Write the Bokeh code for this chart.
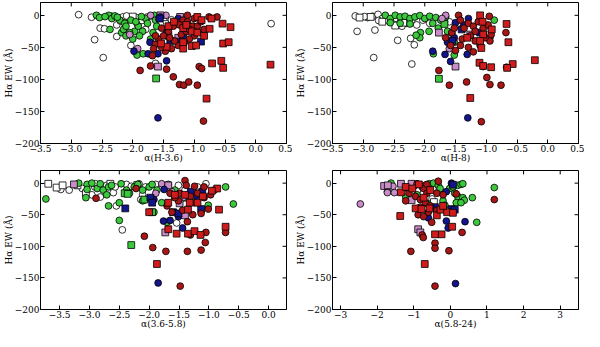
from bokeh.plotting import figure
from bokeh.layouts import gridplot
from bokeh.models import ColumnDataSource, FixedTicker, CustomJSTickFormatter, Range1d
from bokeh.embed import file_html
from bokeh.resources import INLINE

# ---------------- data (x, y) pairs per class ----------------
Y_TICKS = [0, -50, -100, -150, -200]
Y_LIM = (-200, 20)
Y_LABEL = "H\u03b1 EW (\u00c5)"

# Panel 1: alpha(H-3.6)
P1_XLIM = (-3.5, 0.5)
P1_XTICKS = [-3.5, -3.0, -2.5, -2.0, -1.5, -1.0, -0.5, 0.0, 0.5]
P1_OPEN_C = [(-2.88, 1), (-2.67, -3), (-2.53, -20), (-2.46, -21), (-2.62, -38), (-2.48, -66), (-2.26, -33),
             (-2.03, -47), (-1.63, -75), (0.25, -13), (-2.34, -1.5), (-2.16, -2.5), (-2.05, -5), (-1.95, -3.5),
             (-1.76, -2.5), (-1.6, -5), (-1.47, -12), (-1.37, -7), (-1.16, -10), (-0.96, -8.5), (-2.26, -15),
             (-1.92, -15), (-1.79, -22), (-2.2, -9), (-2.1, -1), (-1.85, -8), (-1.7, -1), (-1.55, -14)]
P1_OPEN_S = [(-2.0, -2), (-1.5, -3)]
P1_GREEN_C = [(-2.59, 0), (-2.54, -3.5), (-2.39, 0), (-2.34, -5), (-2.29, -1), (-2.21, -7.5), (-2.13, -12.5),
              (-2.37, -22), (-2.18, -27), (-2.15, -22), (-2.11, -17), (-2.03, -7.5), (-2.0, -37), (-1.97, -25),
              (-1.91, -17), (-1.93, -62), (-1.84, -25), (-1.83, -60), (-1.79, -5), (-1.76, -12.5), (-1.67, -27),
              (-1.65, 0), (-1.63, -7.5), (-1.61, -17), (-1.53, -47), (-1.71, -37), (-1.89, -32), (-2.11, -32),
              (-2.05, -27), (-2.45, -2), (-2.25, -3), (-1.95, -10), (-1.86, -2)]
P1_GREEN_S = [(-1.62, -98.5)]
P1_PINK_C = [(-1.92, -52), (-1.71, 0), (-1.46, 0), (-1.58, -5), (-2.05, -30)]
P1_PINK_S = [(-1.59, -80), (-1.23, -2.5), (-1.55, 0), (-1.26, -35), (-1.42, -32)]
P1_BLUE_C = [(-1.98, -56), (-1.75, -60), (-1.72, -42), (-1.59, -60), (-1.45, -71), (-1.59, -160), (-1.55, -2.5),
             (-1.26, -5), (-1.45, -27)]
P1_BLUE_S = [(-1.56, -5), (-1.39, -40), (-1.24, -41), (-1.18, -33), (-0.89, -41)]
P1_RED_C = [(-1.88, -86), (-1.71, -79), (-1.68, -63), (-1.45, -84), (-1.34, -96), (-1.24, -108), (-1.17, -109),
            (-1.09, -104), (-0.95, -109), (-0.92, -80), (-0.88, -83), (-0.85, -165), (-1.63, -45), (-1.58, -37),
            (-1.5, -32), (-1.42, -25), (-1.34, -17), (-1.26, -12.5), (-1.18, -7.5), (-1.11, -10), (-1.03, -17),
            (-0.95, -25), (-1.0, -32), (-1.08, -37), (-1.16, -42), (-1.26, -47), (-1.37, -52), (-1.47, -56),
            (-1.53, -50), (-1.32, -40), (-1.4, -35), (-1.21, -30), (-1.13, -25), (-1.08, -22), (-0.95, -17),
            (-0.89, -10), (-0.84, -22), (-1.0, -5), (-0.76, -2.5), (-0.63, -2.5), (-1.11, 0), (-1.24, -15),
            (-1.53, -20), (-1.63, -32), (-1.66, -52)]
P1_RED_S = [(-0.95, -2.5), (-0.88, -7.5), (-0.75, -21), (-0.72, -5), (-0.54, -13), (-0.41, -18.5), (-0.53, -44),
            (-0.44, -42), (-0.56, -71), (-0.53, -82), (-0.71, -75), (-0.80, -130), (0.24, -77), (-1.18, -52),
            (-1.04, -48), (-0.97, -47), (-1.18, -42), (-1.45, -49), (-1.54, -44), (-1.42, -17), (-1.18, -20),
            (-1.04, -25), (-0.95, -27), (-1.13, -15), (-0.84, -32), (-1.33, -10)]

# Panel 2: alpha(H-8)
P2_XLIM = (-3.5, 0.5)
P2_XTICKS = [-3.5, -3.0, -2.5, -2.0, -1.5, -1.0, -0.5, 0.0, 0.5]
P2_OPEN_C = [(-3.13, -1), (-3.1, -25), (-2.81, -23), (-2.83, -66), (-2.44, -39), (-2.23, -36), (-2.17, -46),
             (-2.21, -76), (-2.93, -3.5), (-2.85, -1.5), (-2.76, 1.5), (-2.69, -5), (-2.61, -7.5), (-2.51, -10),
             (-2.46, -5), (-2.37, -17), (-2.29, -12.5), (-2.21, -7.5), (-2.13, -15), (-2.03, -7.5), (-1.92, -12.5),
             (-2.4, -11.5), (-0.94, -25), (-1.6, -10), (-1.47, -15), (-2.98, -2), (-2.75, -8)]
P2_OPEN_S = [(-3.06, -3.5), (-2.88, -2.5), (-2.69, -10), (-2.48, -16), (-2.35, -11.5), (-0.94, -31)]
P2_GREEN_C = [(-2.64, 0), (-2.56, -5), (-2.48, 0), (-2.4, -2.5), (-2.32, -1.5), (-2.24, -5), (-2.16, -2.5),
              (-2.08, -0.5), (-2.0, -5), (-1.92, -1.5), (-1.82, -3.5), (-1.74, -7.5), (-1.66, -2.5), (-2.56, -11.5),
              (-2.4, -12.5), (-2.24, -13.5), (-2.07, -27), (-2.08, -35), (-2.14, -31), (-1.93, -25), (-1.87, -12.5),
              (-1.86, -60), (-1.68, -10), (-1.63, -25), (-1.56, -28), (-1.52, -42), (-1.52, -62), (-0.87, -7.5),
              (-1.78, -20)]
P2_GREEN_S = [(-1.77, -99), (-1.68, -13.5)]
P2_PINK_C = [(-1.66, 0), (-1.6, -52), (-1.72, -5)]
P2_PINK_S = [(-1.77, -27), (-1.5, -80), (-1.26, -30)]
P2_BLUE_C = [(-1.87, -56), (-1.67, -61), (-1.58, -72), (-1.3, -160), (-1.31, -61), (-1.5, -11.5), (-1.63, -42),
             (-1.52, -35), (-1.36, -15), (-1.29, -5)]
P2_BLUE_S = [(-1.55, -40), (-1.1, -27), (-1.4, -22)]
P2_RED_C = [(-1.77, -86), (-1.6, -109), (-1.32, -104), (-1.08, -166), (-1.05, -80), (-0.99, -97), (-0.94, -108),
            (-0.76, -109), (-0.67, -81), (-0.68, -27), (-0.94, -40), (-0.92, -30), (-0.95, -1.5), (-1.45, 0),
            (-1.42, -7.5), (-1.36, -20), (-1.29, -12.5), (-1.21, -17), (-1.13, -10), (-1.05, -20), (-0.97, -15),
            (-1.66, -35), (-1.58, -47), (-1.5, -55), (-1.42, -47), (-1.39, -37), (-1.29, -50), (-1.21, -57),
            (-1.18, -40), (-1.1, -47), (-1.56, -27), (-1.18, -25), (-1.02, -35), (-1.26, -32), (-1.52, -20)]
P2_RED_S = [(-1.11, -74), (-1.05, -79), (-0.92, -81), (-0.57, -76), (-0.66, -82), (-0.21, -70), (-0.64, -42),
            (-0.67, -13.5), (-1.26, -129), (-1.1, 0), (-1.06, -10), (-1.05, -30), (-1.1, -40), (-1.08, -51),
            (-0.91, -22), (-1.31, -35)]

# Panel 3: alpha(3.6-5.8)
P3_XLIM = (-3.82, 0.3)
P3_XTICKS = [-3.5, -3.0, -2.5, -2.0, -1.5, -1.0, -0.5, 0.0]
P3_OPEN_C = [(-3.48, -10), (-3.34, -11), (-3.12, -8.5), (-2.96, -18.5), (-2.91, -6), (-2.82, -22), (-2.71, -3.5),
             (-2.6, -15), (-2.57, -6), (-2.55, -36), (-2.45, -74), (-2.38, -2), (-2.17, -1), (-2.06, -6),
             (-2.11, -18.5), (-2.14, -26), (-1.89, -2), (-1.73, -6), (-1.54, -63), (-1.51, -3.5), (-1.4, -11),
             (-1.19, -6), (-1.05, -1), (-1.27, -26), (-2.9, -1), (-2.3, -5)]
P3_OPEN_S = [(-3.69, -1), (-3.55, -7), (-3.45, -3.5), (-3.2, -3.5), (-3.06, -16), (-2.65, -1), (-2.2, -3)]
P3_GREEN_C = [(-3.73, -25), (-3.18, 0), (-3.04, -2), (-2.96, 0), (-2.87, -8.5), (-2.82, -1), (-2.77, -11),
              (-2.68, -6), (-2.63, -3.5), (-2.71, -18.5), (-2.68, -36), (-2.5, -31), (-2.5, -59), (-3.06, -23),
              (-3.04, -10), (-2.47, -1), (-2.38, -11), (-2.33, -16), (-2.25, -6), (-2.19, -2), (-2.11, -11),
              (-2.11, -28), (-2.06, -26), (-2.0, -6), (-1.95, -2), (-1.92, -46), (-1.87, -11), (-1.79, -31),
              (-1.7, -62), (-1.68, -2), (-1.57, -11), (-0.72, -6), (-1.01, -35), (-0.59, -33), (-1.35, -18.5)]
P3_GREEN_S = [(-2.41, -16), (-2.36, -17), (-2.3, -98), (-1.95, -46), (-2.08, -26), (-1.4, -23)]
P3_PINK_C = [(-1.79, -1), (-1.89, -16), (-1.62, -13.5), (-1.43, -23)]
P3_PINK_S = [(-3.26, -2), (-1.68, -3.5), (-1.73, -78), (-1.49, -32), (-1.4, -51)]
P3_BLUE_C = [(-1.76, -60), (-1.65, -59), (-1.51, -53), (-1.44, -71), (-1.85, -158), (-1.92, -26), (-1.75, -10),
             (-1.21, -20)]
P3_BLUE_S = [(-2.4, -40), (-1.98, -23), (-1.95, -31), (-1.6, -46), (-1.51, -48), (-1.3, -13.5), (-1.11, -13.5),
             (-1.13, -41)]
P3_RED_C = [(-2.89, -24), (-2.08, -84), (-1.94, -102), (-1.72, -108), (-1.48, -163), (-1.36, -108), (-1.31, -82),
            (-1.13, -106), (-1.05, -78), (-1.06, -94), (-1.01, -41), (-0.72, -78), (-1.13, -48), (-1.27, -50),
            (-1.36, -61), (-1.44, -43), (-1.62, -46), (-1.7, -36), (-1.51, -28), (-1.4, 4), (-1.38, -3.5),
            (-1.24, -5), (-1.19, -16), (-1.08, -23), (-0.97, -18.5), (-0.91, -11), (-1.08, -6), (-1.49, -16),
            (-1.57, -23), (-1.65, -16), (-2.22, -8.5), (-1.24, -31), (-1.31, -21)]
P3_RED_S = [(-2.0, -46), (-1.87, -128), (-1.68, -73), (-1.54, -80), (-1.35, -80), (-1.24, -76), (-1.14, -82),
            (-0.72, -69), (-0.83, -42), (-0.86, -8.5), (-1.35, -42), (-1.32, -31), (-1.19, -31), (-1.1, -21),
            (-1.4, -18.5), (-1.57, -18.5), (-1.68, -31), (-0.95, -12)]

# Panel 4: alpha(5.8-24)
P4_XLIM = (-3.22, 3.5)
P4_XTICKS = [-3, -2, -1, 0, 1, 2, 3]
P4_OPEN_C = [(-0.5, -25), (-0.3, -10), (-0.9, -12)]
P4_OPEN_S = [(-0.45, -30)]
P4_GREEN_C = [(-1.72, -13.5), (-1.62, 0), (-1.22, -22), (-1.04, -2), (-0.91, -18.5), (-0.77, -5), (-0.68, -3.5),
              (-0.57, -1), (-0.46, 0), (-0.33, -3.5), (-0.28, -8.5), (-0.2, -28), (-0.15, -35), (-0.02, -8.5),
              (0.07, -6), (0.2, -3.5), (0.29, -2), (0.34, -1), (0.12, -16), (0.2, -21), (0.34, -23), (0.38, -27),
              (0.16, -31), (0.29, -31), (0.6, -23), (1.2, -7), (0.72, -62), (-0.61, -33)]
P4_GREEN_S = []
P4_PINK_C = [(-2.46, -33), (-1.72, -15), (-1.53, -15), (-1.57, -5), (-1.0, -5), (-0.77, -6)]
P4_PINK_S = [(-1.81, -4.5), (-1.71, -3.5), (-1.35, -1), (-1.06, -27), (-0.88, -73), (-0.82, -78), (-1.06, -1)]
P4_BLUE_C = [(-0.6, -55), (-0.11, -60), (-0.06, -71), (0.4, -61), (0.14, -159), (0.03, 0), (-0.11, -13.5)]
P4_BLUE_S = [(-0.42, -38), (0.03, -41), (0.12, -42), (0.07, -2.5)]
P4_RED_C = [(-1.08, -108), (-0.42, -163), (-0.42, -95), (-0.42, -103), (-0.04, -107), (0.32, -78), (1.2, -26),
            (-0.51, -62), (-0.77, -82), (-0.74, -86), (-0.88, -50), (-0.73, -53), (-0.6, -46), (-0.37, -43),
            (-1.17, -8.5), (-1.22, -28), (-1.13, -16), (-0.95, -21), (-0.82, -26), (-0.68, -31), (-0.55, -36),
            (-0.91, -1), (-0.73, -8.5), (-0.64, -16), (-0.33, 3), (-0.37, -16), (-0.2, -18.5), (0.16, -17),
            (-0.82, -38), (-0.64, -2)]
P4_RED_S = [(-1.35, -14.5), (-1.37, -52), (-0.95, -40), (-0.79, -41), (-0.57, -40), (-0.37, -51), (-0.27, -42),
            (-0.09, -46), (0.07, -47), (0.05, -69), (-0.24, -81), (-0.42, -81), (-0.7, -128), (-1.22, -6),
            (-0.86, -2), (-0.55, -11), (-0.73, -23), (-0.2, -36), (-1.04, -8.5)]

# ---------------- styling ----------------
FONT = "DejaVu Serif"
FS = "9px"
TICK_LEN = 4
FIG_W = 292
BORDER_L = 36
BORDER_R = 6
FRAME_W = FIG_W - BORDER_L - BORDER_R
EST_FRAME_H = 142
COLORS = {"open": "#ffffff", "green": "#3cc83c", "pink": "#c98cc9", "blue": "#14148c", "red_c": "#a81616",
          "red_s": "#d01c1c"}


def fmt(decimals):
    return CustomJSTickFormatter(args=dict(d=decimals),
                                 code="const s = Math.abs(tick).toFixed(d); return (tick < 0) ? '\u2212' + s : s;")


def style_axis(ax, ticks, decimals):
    ax.ticker = FixedTicker(ticks=ticks)
    ax.formatter = fmt(decimals)
    ax.major_tick_in = TICK_LEN
    ax.major_tick_out = 0
    ax.minor_tick_in = 0
    ax.minor_tick_out = 0
    ax.axis_line_color = "black"
    ax.major_tick_line_color = "black"
    ax.major_label_text_font = FONT
    ax.major_label_text_font_size = FS
    ax.major_label_text_color = "black"
    ax.major_label_standoff = 1
    ax.axis_label_standoff = -2
    ax.axis_label_text_font = FONT
    ax.axis_label_text_font_size = FS
    ax.axis_label_text_font_style = "normal"
    ax.axis_label_text_color = "black"


def groups_for(prefix):
    g = globals()
    return [
        (g[prefix + "_OPEN_C"], "circle", COLORS["open"]),
        (g[prefix + "_OPEN_S"], "square", COLORS["open"]),
        (g[prefix + "_GREEN_C"], "circle", COLORS["green"]),
        (g[prefix + "_GREEN_S"], "square", COLORS["green"]),
        (g[prefix + "_PINK_C"], "circle", COLORS["pink"]),
        (g[prefix + "_PINK_S"], "square", COLORS["pink"]),
        (g[prefix + "_BLUE_C"], "circle", COLORS["blue"]),
        (g[prefix + "_BLUE_S"], "square", COLORS["blue"]),
        (g[prefix + "_RED_C"], "circle", COLORS["red_c"]),
        (g[prefix + "_RED_S"], "square", COLORS["red_s"]),
    ]


def panel(prefix, xlabel, fig_h, top_border):
    g = globals()
    xlim = g[prefix + "_XLIM"]
    xticks = g[prefix + "_XTICKS"]
    xdec = 0 if all(float(t).is_integer() for t in xticks) else 1
    p = figure(width=FIG_W, height=fig_h, x_range=Range1d(*xlim), y_range=Range1d(*Y_LIM),
               output_backend="svg", toolbar_location=None,
               min_border_left=BORDER_L, min_border_right=BORDER_R, min_border_top=top_border, min_border_bottom=0)
    p.grid.visible = False
    p.outline_line_color = "black"
    p.outline_line_width = 1
    p.background_fill_color = "white"
    p.border_fill_color = "white"
    style_axis(p.xaxis[0], xticks, xdec)
    style_axis(p.yaxis[0], Y_TICKS, 0)
    p.xaxis[0].axis_label = xlabel
    p.yaxis[0].axis_label = Y_LABEL

    # mirrored inward ticks on the top and right edges
    dy = TICK_LEN * (Y_LIM[1] - Y_LIM[0]) / EST_FRAME_H
    dx = TICK_LEN * (xlim[1] - xlim[0]) / FRAME_W
    top_src = ColumnDataSource(dict(x=xticks, y0=[Y_LIM[1]] * len(xticks), y1=[Y_LIM[1] - dy] * len(xticks)))
    p.segment(x0="x", x1="x", y0="y0", y1="y1", source=top_src, line_color="black", line_width=1)
    right_src = ColumnDataSource(dict(y=Y_TICKS, x0=[xlim[1]] * len(Y_TICKS), x1=[xlim[1] - dx] * len(Y_TICKS)))
    p.segment(x0="x0", x1="x1", y0="y", y1="y", source=right_src, line_color="black", line_width=1)

    for pts, marker, color in groups_for(prefix):
        if not pts:
            continue
        src = ColumnDataSource(dict(x=[a for a, b in pts], y=[b for a, b in pts]))
        p.scatter("x", "y", source=src, marker=marker, size=6.8, fill_color=color,
                  line_color="black", line_width=0.8)
    return p


p1 = panel("P1", "\u03b1(H-3.6)", 165, 2)
p2 = panel("P2", "\u03b1(H-8)", 165, 2)
p3 = panel("P3", "\u03b1(3.6-5.8)", 166, 5)
p4 = panel("P4", "\u03b1(5.8-24)", 166, 5)

p = gridplot([[p1, p2], [p3, p4]], toolbar_location=None)

open("out.html", "w").write(file_html(p, INLINE))
